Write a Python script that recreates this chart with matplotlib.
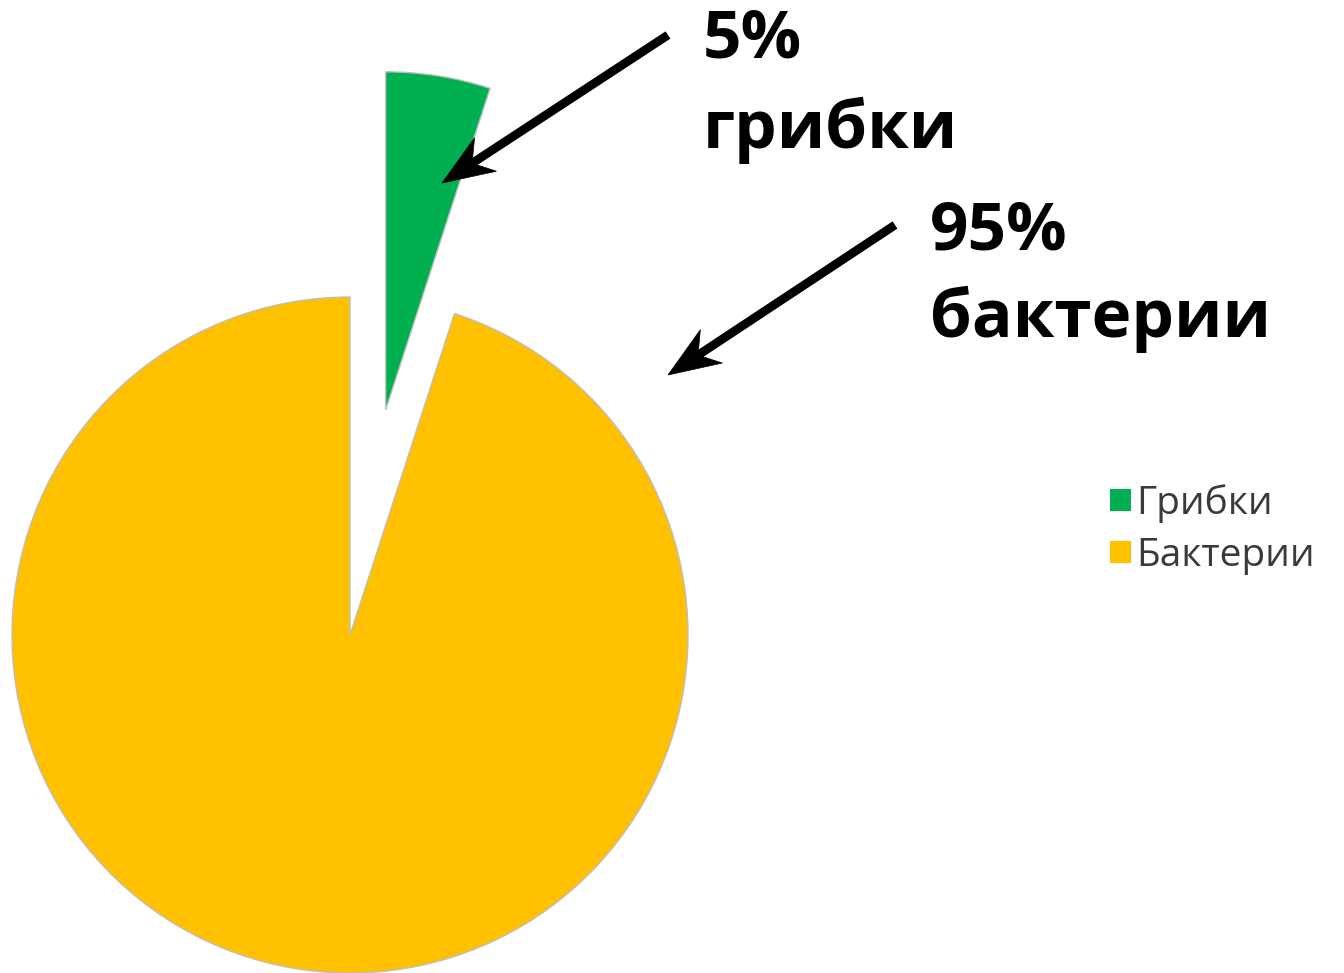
import matplotlib
matplotlib.use("Agg")
import matplotlib.pyplot as plt
from matplotlib.patches import Polygon
import numpy as np

# Shares of the microbial community
categories = ["Грибки", "Бактерии"]
shares = [5, 95]
colors = ["#00B050", "#FFC000"]
callouts = [("5%", "грибки"), ("95%", "бактерии")]

W, H = 1344, 973
fig = plt.figure(figsize=(W / 100, H / 100), dpi=100)
ax = fig.add_axes([0, 0, 1, 1])


def py(y):
    """Convert a top-down pixel row into the axes' y coordinate."""
    return H - y


R = 338
wedges, _ = ax.pie(
    shares,
    explode=[228, 0.0],
    colors=colors,
    startangle=90,
    counterclock=False,
    center=(350, py(635)),
    radius=R,
    wedgeprops=dict(edgecolor="#BFBFBF", linewidth=1.0),
)
ax.set_xlim(0, W)
ax.set_ylim(0, H)
ax.set_aspect("equal")
ax.axis("off")

# Callout texts
big = dict(family="Open Sans", fontweight="bold", fontsize=48.5, color="black",
           va="baseline", ha="left")
ax.text(703, py(58), callouts[0][0], **big)
ax.text(703, py(148), callouts[0][1], **big)
ax.text(930, py(249), callouts[1][0], **big)
ax.text(930, py(337), callouts[1][1], **big)


def arrow(x0, y0, x1, y1, lw=6.3, head_len=52, head_w=20, notch=36):
    p0 = np.array([x0, py(y0)], float)
    p1 = np.array([x1, py(y1)], float)
    u = (p1 - p0) / np.linalg.norm(p1 - p0)
    n = np.array([-u[1], u[0]])
    back = p1 - notch * u
    ax.plot([p0[0], back[0]], [p0[1], back[1]], color="black", lw=lw,
            solid_capstyle="butt", zorder=5)
    head = [p1, p1 - head_len * u + head_w * n, back, p1 - head_len * u - head_w * n]
    ax.add_patch(Polygon(head, closed=True, facecolor="black", edgecolor="black",
                         lw=0.5, zorder=6))


arrow(668, 35, 442, 183)
arrow(895, 225, 668, 375)

leg = fig.legend(
    wedges, categories,
    loc="upper left",
    bbox_to_anchor=(1110 / W, 1 - 484 / H),
    frameon=False,
    prop=dict(family="Open Sans", size=28),
    labelcolor="#3A3A3A",
    handlelength=0.55,
    handleheight=0.5,
    handletextpad=0.12,
    labelspacing=0.35,
    borderpad=0,
    borderaxespad=0,
)
for h in leg.legend_handles:
    h.set_edgecolor("none")

fig.savefig("out.png", dpi=100, facecolor="white")
